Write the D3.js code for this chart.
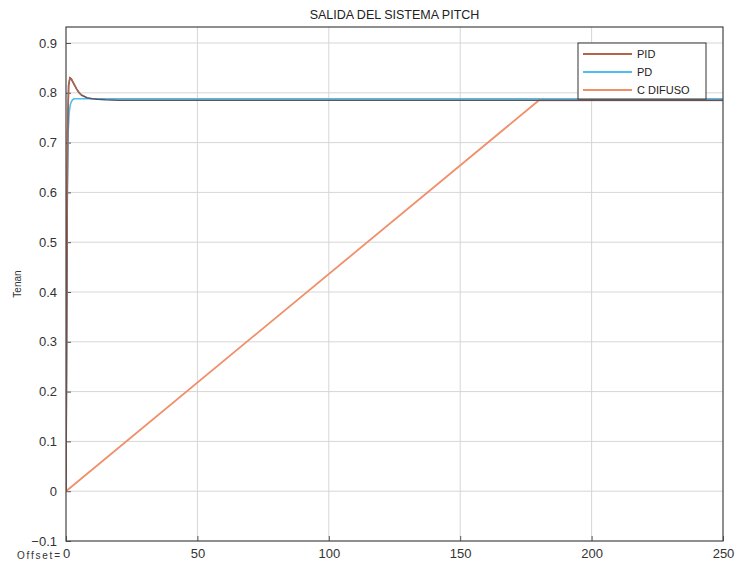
<!DOCTYPE html>
<html><head><meta charset="utf-8">
<script src="https://cdn.jsdelivr.net/npm/d3@7"></script>
<style>
body{margin:0;background:#fff;}
text{font-family:"Liberation Sans",Arial,sans-serif;}
</style></head>
<body><svg id="c" width="739" height="572"></svg>
<script>
const title = "SALIDA DEL SISTEMA PITCH";
const seriesNames = ["PID", "PD", "C DIFUSO"];
const xTicks = [0, 50, 100, 150, 200, 250];
const yTicks = [-0.1, 0, 0.1, 0.2, 0.3, 0.4, 0.5, 0.6, 0.7, 0.8, 0.9];

const pidT = [0, 0.3, 0.6, 1.0, 1.5, 2, 3, 4, 5, 6, 8, 10, 12, 15, 20, 30, 250];
const pidV = [0, 0.40, 0.72, 0.815, 0.830, 0.828, 0.818, 0.808, 0.800, 0.795, 0.790, 0.788, 0.787, 0.786, 0.785, 0.785, 0.785];
const pdT = [0, 0.2, 0.5, 0.8, 1.2, 1.6, 2.0, 2.5, 3.0, 4.0, 250];
const pdV = [0, 0.30, 0.60, 0.72, 0.76, 0.775, 0.782, 0.786, 0.788, 0.788, 0.788];
const fuzT = [0, 180, 250];
const fuzV = [0, 0.785, 0.785];

const colors = ["#b4644a", "#4dbeee", "#f0906a"];

const svg = d3.select("#c");
const L = 66, R = 723, T = 27, B = 541;
const x = d3.scaleLinear().domain([0, 250]).range([L, R]);
const y = d3.scaleLinear().domain([-0.1, 0.9]).range([B, 43]);

// grid
svg.append("g").selectAll("line").data(xTicks.slice(1, -1)).join("line")
  .attr("x1", d => x(d)).attr("x2", d => x(d)).attr("y1", T).attr("y2", B)
  .attr("stroke", "#d6d6d6").attr("stroke-width", 1);
svg.append("g").selectAll("line").data(yTicks.slice(1)).join("line")
  .attr("x1", L).attr("x2", R).attr("y1", d => y(d)).attr("y2", d => y(d))
  .attr("stroke", "#d6d6d6").attr("stroke-width", 1);

// axes
const xa = svg.append("g").attr("transform", `translate(0,${B})`)
  .call(d3.axisBottom(x).tickValues(xTicks).tickSize(-5).tickPadding(10).tickFormat(d3.format("d")));
const ya = svg.append("g").attr("transform", `translate(${L},0)`)
  .call(d3.axisLeft(y).tickValues(yTicks).tickSize(-5).tickPadding(9).tickFormat(d => d === 0 ? "0" : d3.format(".1f")(d)));
[xa, ya].forEach(a => {
  a.select(".domain").remove();
  a.selectAll("line").attr("stroke", "#555");
  a.selectAll("text").attr("font-size", 13).attr("fill", "#333")
    .attr("font-family", "'Liberation Sans',Arial,sans-serif");
});
xa.selectAll("text").attr("dy", "0.55em");

// lines
const line = d3.line().x(d => x(d[0])).y(d => y(d[1]));
const clip = svg.append("clipPath").attr("id", "clip").append("rect")
  .attr("x", L).attr("y", T).attr("width", R - L).attr("height", B - T);
const lg = svg.append("g").attr("clip-path", "url(#clip)");
lg.append("path").datum(d3.zip(fuzT, fuzV)).attr("d", line)
  .attr("fill", "none").attr("stroke", colors[2]).attr("stroke-width", 1.8);
lg.append("path").datum(d3.zip(pdT, pdV)).attr("d", line)
  .attr("fill", "none").attr("stroke", colors[1]).attr("stroke-width", 1.6);
lg.append("path").datum(d3.zip(pidT, pidV)).attr("d", line)
  .attr("fill", "none").attr("stroke", "#5a5560").attr("stroke-width", 1.6);
lg.append("path").datum(d3.zip(pidT.slice(0, 10), pidV.slice(0, 10))).attr("d", line)
  .attr("fill", "none").attr("stroke", colors[0]).attr("stroke-width", 1.4);

// box
svg.append("rect").attr("x", L).attr("y", T).attr("width", R - L).attr("height", B - T)
  .attr("fill", "none").attr("stroke", "#444").attr("stroke-width", 1.2);

// title
svg.append("text").attr("x", (L + R) / 2).attr("y", 19).attr("text-anchor", "middle")
  .attr("font-size", 12.5).attr("fill", "#222").text(title);

// y label
svg.append("text").attr("transform", "translate(21,284) rotate(-90)")
  .attr("text-anchor", "middle").attr("font-size", 10).attr("fill", "#333").text("Tenan");

// offset
svg.append("text").attr("x", 17).attr("y", 559).attr("font-size", 10).attr("fill", "#333")
  .attr("textLength", 43).text("Offset=");

// legend
const lgX = 578, lgY = 43, lgW = 128, lgH = 56;
svg.append("rect").attr("x", lgX).attr("y", lgY).attr("width", lgW).attr("height", lgH)
  .attr("fill", "#fff").attr("stroke", "#333").attr("stroke-width", 1);
const rows = svg.append("g").selectAll("g").data(seriesNames).join("g")
  .attr("transform", (d, i) => `translate(${lgX},${lgY + 11 + i * 18})`);
rows.append("line").attr("x1", 5).attr("x2", 54).attr("stroke", (d, i) => colors[i]).attr("stroke-width", 1.8);
rows.append("text").attr("x", 59).attr("dy", "0.35em").attr("font-size", 11).attr("fill", "#222").text(d => d);
</script></body></html>
